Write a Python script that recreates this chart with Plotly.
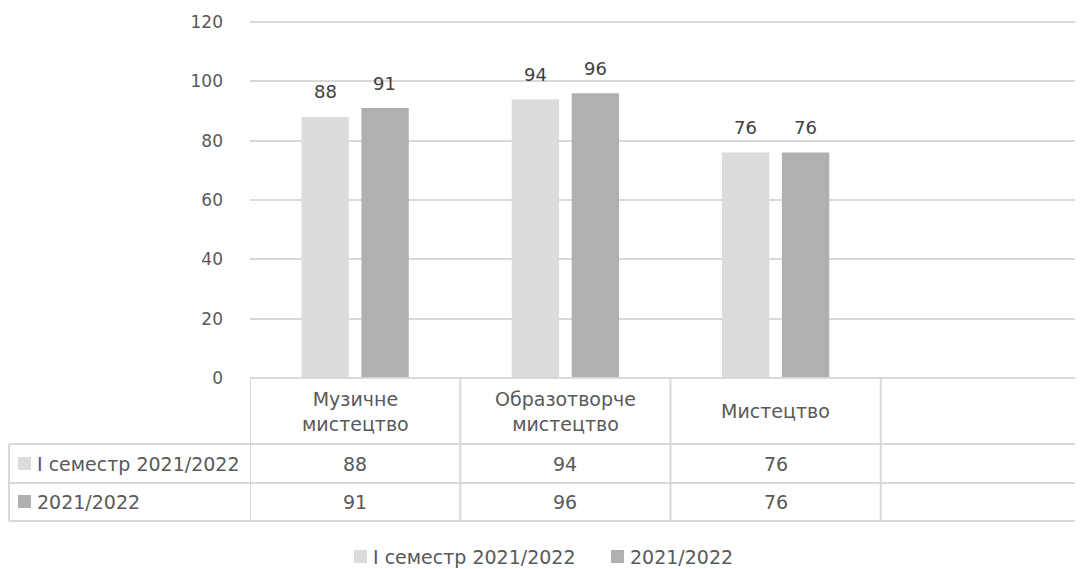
import plotly.graph_objects as go

W, H = 1083, 569
OFF = 8  # default body margin of the html page

CATEGORIES = ["Музичне<br>мистецтво", "Образотворче<br>мистецтво", "Мистецтво", ""]
SERIES_NAMES = ["I семестр 2021/2022", "2021/2022"]
SEMESTER = [88, 94, 76]
YEAR = [91, 96, 76]
Y_TICKS = [0, 20, 40, 60, 80, 100, 120]
Y_MAX = 121

COLORS = ["#DCDCDC", "#B0B0B0"]
TEXT = "#595959"
LINE = "#D9D9D9"
FONT = "DejaVu Sans, sans-serif"

Y0_PX, Y120_PX = 378, 22  # where 0 and 120 sit in the window
UNIT = (Y0_PX - Y120_PX) / 120
BAR_STEP = 59.5  # px between the two bars of a group


def py(p):
    # window pixel row -> paper y
    return 1 - (p - OFF) / H


def px(p):
    return (p - OFF) / W


fig = go.Figure()
for k, (name, vals, col) in enumerate(zip(SERIES_NAMES, [SEMESTER, YEAR], COLORS)):
    fig.add_trace(go.Bar(
        x=list(range(len(vals))), y=vals, name=name,
        marker=dict(color=col, line_width=0),
    ))

shapes = []
annotations = []

# value labels above bars
for k, vals in enumerate([SEMESTER, YEAR]):
    for i, v in enumerate(vals):
        annotations.append(dict(x=i, y=v, xref="x", yref="y", text=str(v),
                                xshift=(k - 0.5) * BAR_STEP, yshift=25,
                                yanchor="middle", showarrow=False,
                                font=dict(size=18, color="#404040")))

# horizontal table lines
for y0, x0 in [(378, 250), (444, 9), (483, 9), (521, 9)]:
    shapes.append(dict(type="line", xref="paper", yref="paper",
                       x0=px(x0), x1=1.01, y0=py(y0), y1=py(y0),
                       line=dict(color=LINE, width=2)))
# vertical lines
shapes.append(dict(type="line", xref="paper", yref="paper", x0=px(9), x1=px(9),
                   y0=py(444), y1=py(521), line=dict(color=LINE, width=2)))
for i in range(len(CATEGORIES)):
    shapes.append(dict(type="line", xref="x", yref="paper", x0=i - 0.5, x1=i - 0.5,
                       y0=py(378), y1=py(521), line=dict(color=LINE, width=2)))

for i, cat in enumerate(CATEGORIES):
    if cat:
        annotations.append(dict(x=i, y=py(411), xref="x", yref="paper", text=cat,
                                showarrow=False, yanchor="middle",
                                font=dict(size=19, color=TEXT)))
for yc, name, vals, col in zip([463.5, 501.5], SERIES_NAMES, [SEMESTER, YEAR], COLORS):
    shapes.append(dict(type="rect", xref="paper", yref="paper",
                       x0=px(18), x1=px(31), y0=py(yc + 6.5), y1=py(yc - 6.5),
                       fillcolor=col, line_width=0))
    annotations.append(dict(x=px(35), y=py(yc), xref="paper", yref="paper", text=name,
                            xanchor="left", yanchor="middle", showarrow=False,
                            font=dict(size=19, color=TEXT)))
    for i, v in enumerate(vals):
        annotations.append(dict(x=i, y=py(yc), xref="x", yref="paper", text=str(v),
                                yanchor="middle", showarrow=False,
                                font=dict(size=19, color=TEXT)))

# legend below the table
for xs, name, col in zip([354, 611], SERIES_NAMES, COLORS):
    shapes.append(dict(type="rect", xref="paper", yref="paper",
                       x0=px(xs), x1=px(xs + 13), y0=py(563), y1=py(550),
                       fillcolor=col, line_width=0))
    annotations.append(dict(x=px(xs + 17), y=py(556.5), xref="paper", yref="paper",
                            text=name, xanchor="left", yanchor="middle", showarrow=False,
                            font=dict(size=19, color=TEXT)))

fig.update_layout(
    width=W, height=H,
    margin=dict(l=0, r=0, t=0, b=0, autoexpand=False),
    paper_bgcolor="white", plot_bgcolor="white",
    font=dict(family=FONT, color=TEXT, size=17),
    barmode="group", bargap=0.43, bargroupgap=0.21,
    showlegend=False,
    xaxis=dict(domain=[px(250), 1], range=[-0.5, 3.5], showticklabels=False,
               showgrid=False, zeroline=False, fixedrange=True, automargin=False),
    yaxis=dict(domain=[py(Y0_PX), py(Y0_PX - Y_MAX * UNIT)], range=[0, Y_MAX],
               autorange=False, tickvals=Y_TICKS, automargin=False,
               showgrid=True, gridcolor=LINE, gridwidth=1.5, zeroline=False,
               ticks="", ticklabelstandoff=26, tickfont=dict(size=17, color=TEXT)),
    shapes=shapes, annotations=annotations,
)

fig.write_html("out.html")
